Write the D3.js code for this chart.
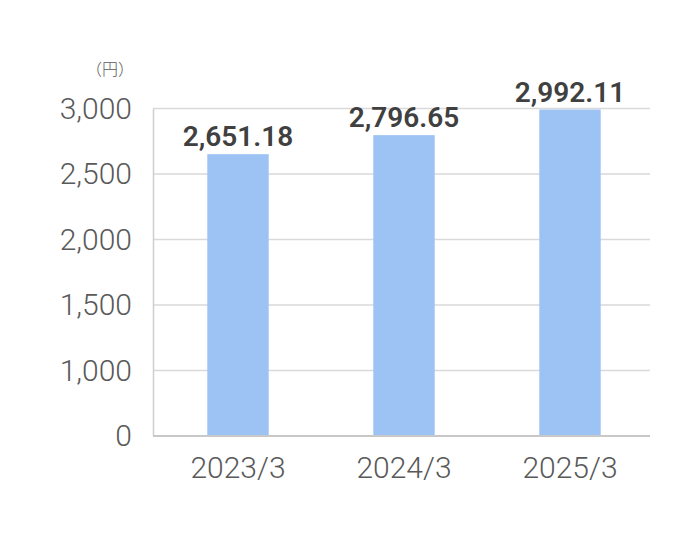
<!DOCTYPE html>
<html>
<head>
<meta charset="utf-8">
<script src="https://cdn.jsdelivr.net/npm/d3@7"></script>
<style>
  body { margin: 0; background: #fff; }
  svg { display: block; }
</style>
</head>
<body>
<svg id="chart" width="690" height="544"></svg>
<script>
const categories = ["2023/3", "2024/3", "2025/3"];
const values = [2651.18, 2796.65, 2992.11];
const valueLabels = ["2,651.18", "2,796.65", "2,992.11"];
const yTicks = [0, 1000, 1500, 2000, 2500, 3000];
const unitLabel = "（円）";

(function () {
const svg = d3.select("#chart");
const plotLeft = 153, plotRight = 650, plotTop = 108.5, plotBottom = 436;
const font = "Roboto, 'Noto Sans CJK JP', sans-serif";
const cjkFont = "'Noto Sans CJK JP', sans-serif";

const x = d3.scaleBand().domain(categories).range([plotLeft + 2, plotRight + 3])
  .paddingInner(0.63).paddingOuter(0.315);
// broken axis: 0 at the baseline, then 1,000 to 3,000 in even steps
const y = d3.scaleLinear().domain([0, 1000, 3000])
  .range([plotBottom, plotBottom - (plotBottom - plotTop) / 5, plotTop]);

// gridlines
svg.append("g").selectAll("line").data(yTicks.filter(t => t > 0)).join("line")
  .attr("x1", plotLeft).attr("x2", plotRight)
  .attr("y1", d => y(d)).attr("y2", d => y(d))
  .attr("stroke", "#d9d9d9").attr("stroke-width", 1.5);

// y axis
const yAxis = svg.append("g").attr("transform", `translate(${plotLeft},0)`)
  .call(d3.axisLeft(y).tickValues(yTicks).tickSize(0).tickPadding(21)
    .tickFormat(d3.format(",")));
yAxis.select(".domain").attr("stroke", "#cfcfcf").attr("stroke-width", 1.5);
yAxis.selectAll("text").attr("font-family", font).attr("font-size", 30)
  .attr("font-weight", 300).attr("fill", "#595959");

// bars
svg.append("g").selectAll("rect").data(values).join("rect")
  .attr("x", (d, i) => x(categories[i]))
  .attr("width", x.bandwidth())
  .attr("y", d => y(d))
  .attr("height", d => y(0) - y(d) - 1)
  .attr("fill", "#9dc3f5");

// x axis
const xAxis = svg.append("g").attr("transform", `translate(0,${plotBottom})`)
  .call(d3.axisBottom(x).tickSize(0).tickPadding(21));
xAxis.select(".domain").attr("stroke", "#c8c8c8").attr("stroke-width", 2)
  .attr("d", `M${plotLeft},0H${plotRight}`);
xAxis.selectAll("text").attr("font-family", font).attr("font-size", 30)
  .attr("font-weight", 300).attr("fill", "#595959");

// value labels
svg.append("g").selectAll("text").data(values).join("text")
  .attr("x", (d, i) => x(categories[i]) + x.bandwidth() / 2)
  .attr("y", d => y(d) - 8)
  .attr("text-anchor", "middle")
  .attr("font-family", font).attr("font-size", 28).attr("font-weight", 600)
  .attr("fill", "#404040")
  .text((d, i) => valueLabels[i]);

// unit
svg.append("text").attr("x", 134).attr("y", 75).attr("text-anchor", "end")
  .attr("font-family", cjkFont).attr("font-size", 16).attr("font-weight", 300)
  .attr("fill", "#595959")
  .text(unitLabel);
})();
</script>
</body>
</html>
